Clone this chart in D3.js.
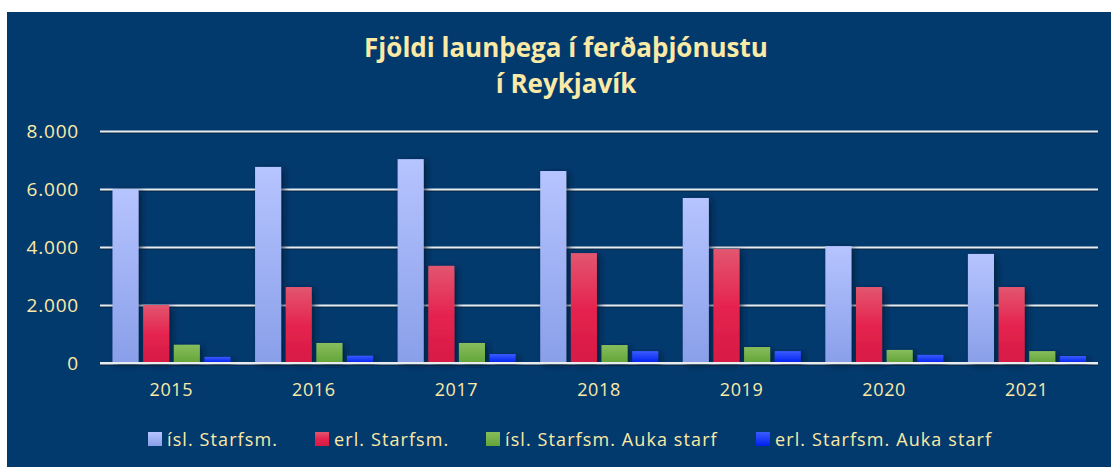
<!DOCTYPE html>
<html>
<head>
<meta charset="utf-8">
<script src="https://cdn.jsdelivr.net/npm/d3@7"></script>
<style>
  html, body { margin: 0; padding: 0; background: #ffffff; }
  svg { display: block; }
  text { font-family: "Open Sans", "Noto Sans", sans-serif; fill: #fbeaa5; }
</style>
</head>
<body>
<svg id="chart" width="1111" height="467"></svg>
<script>
// Employees in tourism, Reykjavík, by year
const years = ["2015", "2016", "2017", "2018", "2019", "2020", "2021"];
const seriesNames = ["ísl. Starfsm.", "erl. Starfsm.", "ísl. Starfsm. Auka starf", "erl. Starfsm. Auka starf"];
const islStarfsm = [6000, 6760, 7030, 6620, 5690, 4030, 3760];
const erlStarfsm = [2000, 2620, 3350, 3790, 3930, 2620, 2620];
const islAuka    = [630, 690, 690, 620, 550, 450, 410];
const erlAuka    = [210, 250, 310, 410, 410, 280, 240];
const yTicks = [0, 2000, 4000, 6000, 8000];

const seriesValues = [islStarfsm, erlStarfsm, islAuka, erlAuka];
const gradients = [
  ["#b6c4ff", "#899fe9"],
  ["#e2566f", "#e5244f", "#d61a44"],
  ["#87bd5d", "#63a537"],
  ["#3a5cff", "#0020ee"]
];

const svg = d3.select("#chart");
const defs = svg.append("defs");

gradients.forEach((stops, i) => {
  const g = defs.append("linearGradient")
    .attr("id", "grad" + i)
    .attr("x1", 0).attr("y1", 0).attr("x2", 0).attr("y2", 1);
  stops.forEach((c, j) => {
    g.append("stop").attr("offset", j / (stops.length - 1)).attr("stop-color", c);
  });
});

const shadow = defs.append("filter").attr("id", "barShadow")
  .attr("x", "-30%").attr("y", "-10%").attr("width", "180%").attr("height", "130%");
shadow.append("feDropShadow")
  .attr("dx", 3).attr("dy", 2).attr("stdDeviation", 3)
  .attr("flood-color", "#001a33").attr("flood-opacity", 0.75);

// panel background
svg.append("rect")
  .attr("x", 7).attr("y", 12).attr("width", 1104).attr("height", 455)
  .attr("fill", "#033a6e");

// title
const title = svg.append("text")
  .attr("text-anchor", "middle")
  .style("font-weight", 700)
  .style("font-size", "26px");
title.append("tspan").attr("x", 566).attr("y", 57).text("Fjöldi launþega í ferðaþjónustu");
title.append("tspan").attr("x", 566).attr("y", 93).text("í Reykjavík");

const plotLeft = 100, plotRight = 1098, plotTop = 131, plotBottom = 363;

const x0 = d3.scaleBand().domain(years).range([plotLeft, plotRight]).padding(0);
const x1 = d3.scaleBand().domain(d3.range(seriesNames.length))
  .range([12.5, 130.5]).paddingInner(0.15).paddingOuter(0);
const y = d3.scaleLinear().domain([0, 8000]).range([plotBottom, plotTop]);

// gridlines with a faint shadow underneath
const grid = svg.append("g").attr("class", "grid")
  .attr("transform", `translate(${plotLeft},0)`);
grid.append("g")
  .attr("transform", "translate(0,1.5)")
  .call(d3.axisLeft(y).tickValues(yTicks).tickSize(-(plotRight - plotLeft)).tickFormat(""))
  .call(g => g.select(".domain").remove())
  .selectAll(".tick line")
  .attr("stroke", "#0a1f33").attr("stroke-opacity", 0.5).attr("stroke-width", 2);
grid.append("g")
  .call(d3.axisLeft(y).tickValues(yTicks).tickSize(-(plotRight - plotLeft)).tickFormat(""))
  .call(g => g.select(".domain").remove())
  .selectAll(".tick line")
  .attr("stroke", "#e9ecef").attr("stroke-width", 2);

// y tick labels
const yAxis = svg.append("g")
  .attr("transform", `translate(79,0)`)
  .call(d3.axisLeft(y).tickValues(yTicks).tickSize(0).tickPadding(0)
    .tickFormat(d => d3.format(",")(d).replace(/,/g, ".")));
yAxis.select(".domain").remove();
yAxis.selectAll("text")
  .style("font-size", "19px")
  .style("font-family", "'Open Sans', sans-serif")
  .style("letter-spacing", "0.8px")
  .attr("fill", "#fbeaa5")
  .attr("dy", "0.36em");

// bars
const groups = svg.append("g").selectAll("g")
  .data(years)
  .join("g")
  .attr("transform", d => `translate(${x0(d)},0)`);

groups.selectAll("rect")
  .data((yr, i) => seriesValues.map((vals, s) => ({ s, v: vals[i] })))
  .join("rect")
  .attr("x", d => x1(d.s))
  .attr("width", x1.bandwidth())
  .attr("y", d => y(d.v))
  .attr("height", d => y(0) - y(d.v))
  .attr("fill", d => `url(#grad${d.s})`)
  .attr("filter", "url(#barShadow)");

// redraw baseline on top of bars
svg.append("line")
  .attr("x1", plotLeft).attr("x2", plotRight)
  .attr("y1", y(0)).attr("y2", y(0))
  .attr("stroke", "#e9ecef").attr("stroke-width", 2);

// x axis labels
const xAxis = svg.append("g")
  .attr("transform", `translate(0,${plotBottom})`)
  .call(d3.axisBottom(x0).tickSize(0).tickPadding(0));
xAxis.select(".domain").remove();
xAxis.selectAll("text")
  .style("font-size", "18px")
  .style("font-family", "'Open Sans', sans-serif")
  .style("letter-spacing", "0.6px")
  .attr("fill", "#fbeaa5")
  .attr("dy", "33px");

// legend
const legendX = [148, 315, 486, 756];
const legend = svg.append("g").selectAll("g")
  .data(seriesNames)
  .join("g")
  .attr("transform", (d, i) => `translate(${legendX[i]},432)`);
legend.append("rect")
  .attr("width", 14).attr("height", 14)
  .attr("fill", (d, i) => `url(#grad${i})`);
legend.append("text")
  .attr("x", 19).attr("y", 14)
  .style("font-size", "18px")
  .style("letter-spacing", "1.1px")
  .text(d => d);
</script>
</body>
</html>
